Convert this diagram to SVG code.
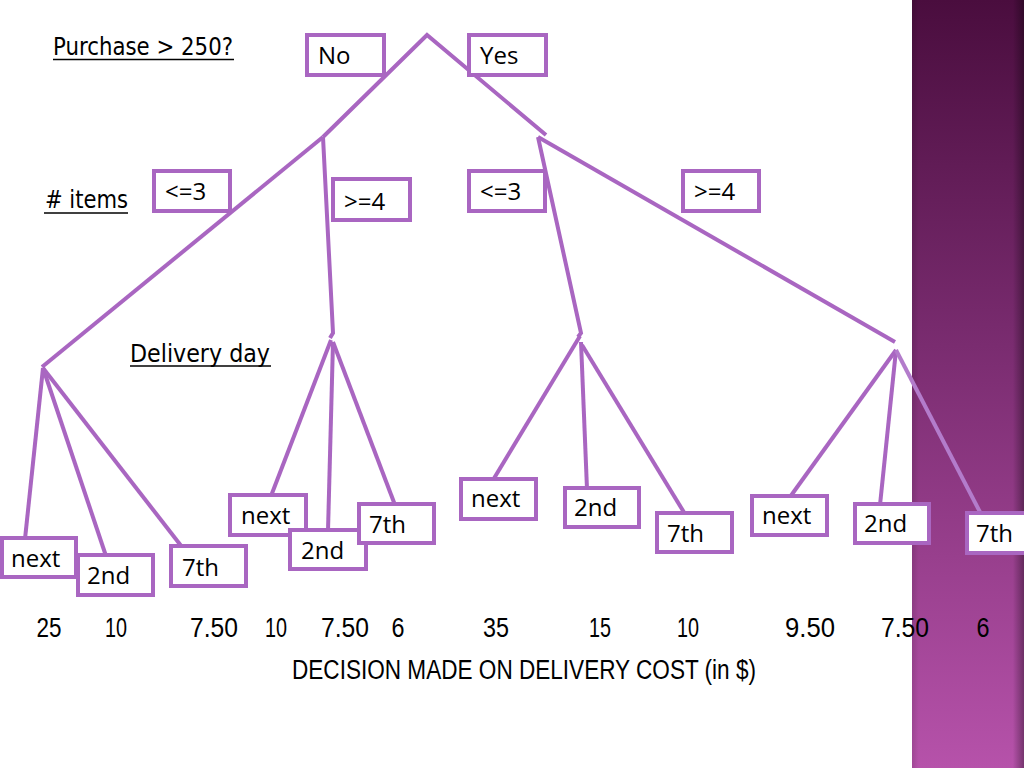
<svg xmlns="http://www.w3.org/2000/svg" width="1024" height="768" viewBox="0 0 1024 768">
<defs>
<linearGradient id="panel" x1="0" y1="0" x2="0" y2="1">
<stop offset="0" stop-color="#4a0d3e"/>
<stop offset="0.45" stop-color="#7a2c70"/>
<stop offset="1" stop-color="#b652aa"/>
</linearGradient>
<linearGradient id="edge" x1="0" y1="0" x2="1" y2="0">
<stop offset="0" stop-color="#000" stop-opacity="0.12"/>
<stop offset="0.06" stop-color="#000" stop-opacity="0"/>
<stop offset="0.9" stop-color="#000" stop-opacity="0"/>
<stop offset="1" stop-color="#000" stop-opacity="0.35"/>
</linearGradient>
<style>
.ln{fill:none;stroke:#a966c1;stroke-width:4;stroke-linejoin:miter;stroke-linecap:butt}
.ln2{fill:none;stroke:#b37ccb;stroke-width:4}
.bx{fill:#fff;stroke:#a966c1;stroke-width:4}
.lb{font-family:"Open Sans","Liberation Sans",sans-serif;font-size:24px;fill:#000}
.hd{font-family:"DejaVu Sans","Liberation Sans",sans-serif;font-size:24px;fill:#000}
.ul{stroke:#000;stroke-width:1.5}
.nm{font-family:"Liberation Sans","DejaVu Sans",sans-serif;font-size:27px;fill:#000;text-anchor:middle}
</style>
</defs>
<rect x="0" y="0" width="1024" height="768" fill="#fff"/>
<rect x="912" y="0" width="112" height="768" fill="url(#panel)"/>
<rect x="912" y="0" width="112" height="768" fill="url(#edge)"/>

<g id="headings">
<text class="hd" x="53" y="55" textLength="180" lengthAdjust="spacingAndGlyphs">Purchase &gt; 250?</text>
<line class="ul" x1="53" y1="59.5" x2="234" y2="59.5"/>
<text class="hd" x="45" y="208" textLength="83" lengthAdjust="spacingAndGlyphs"># items</text>
<line class="ul" x1="44" y1="213" x2="128" y2="213"/>
<text class="hd" x="130" y="362" textLength="140" lengthAdjust="spacingAndGlyphs">Delivery day</text>
<line class="ul" x1="130" y1="366" x2="271" y2="366"/>
</g>

<g id="connectors">
<polyline class="ln" points="323,137 427,35 546,135"/>
<polyline class="ln" points="323,137 42,367"/>
<polyline class="ln" points="323,137 333,333 330,338"/>
<polyline class="ln" points="538,137 895,342"/>
<polyline class="ln" points="538,137 581,333 578,337"/>
<line class="ln" x1="43" y1="368" x2="25" y2="539"/>
<line class="ln" x1="43" y1="368" x2="106" y2="556"/>
<line class="ln" x1="43" y1="368" x2="182" y2="547"/>
<line class="ln" x1="331" y1="340" x2="271" y2="496"/>
<line class="ln" x1="333" y1="342" x2="328" y2="531"/>
<line class="ln" x1="333" y1="342" x2="395" y2="505"/>
<line class="ln" x1="580" y1="336" x2="493" y2="480"/>
<line class="ln" x1="581" y1="342" x2="587" y2="489"/>
<line class="ln" x1="582" y1="345" x2="685" y2="514"/>
<line class="ln" x1="896" y1="350" x2="790" y2="497"/>
<line class="ln" x1="896" y1="350" x2="880" y2="505"/>
<line class="ln2" x1="896" y1="350" x2="981" y2="514"/>
</g>

<g id="node-no"><rect class="bx" x="307" y="35" width="77" height="40"/><text class="lb" x="318" y="64">No</text></g>
<g id="node-yes"><rect class="bx" x="469" y="35" width="77" height="40"/><text class="lb" x="480" y="64">Yes</text></g>
<g id="node-le3-a"><rect class="bx" x="154" y="171" width="76" height="40"/><text class="lb" x="165" y="200">&lt;=3</text></g>
<g id="node-ge4-a"><rect class="bx" x="333" y="179" width="77" height="41"/><text class="lb" x="344" y="210">&gt;=4</text></g>
<g id="node-le3-b"><rect class="bx" x="469" y="171" width="76" height="40"/><text class="lb" x="480" y="200">&lt;=3</text></g>
<g id="node-ge4-b"><rect class="bx" x="683" y="171" width="76" height="40"/><text class="lb" x="694" y="200">&gt;=4</text></g>

<g id="leaf-1-next"><rect class="bx" x="2" y="538" width="74" height="39"/><text class="lb" x="11" y="567">next</text></g>
<g id="leaf-1-2nd"><rect class="bx" x="78" y="555" width="75" height="40"/><text class="lb" x="87" y="584">2nd</text></g>
<g id="leaf-1-7th"><rect class="bx" x="171" y="546" width="75" height="40"/><text class="lb" x="182" y="576">7th</text></g>
<g id="leaf-2-next"><rect class="bx" x="230" y="495" width="76" height="40"/><text class="lb" x="241" y="524">next</text></g>
<g id="leaf-2-2nd"><rect class="bx" x="290" y="530" width="76" height="39"/><text class="lb" x="301" y="559">2nd</text></g>
<g id="leaf-2-7th"><rect class="bx" x="359" y="504" width="75" height="39"/><text class="lb" x="369" y="533">7th</text></g>
<g id="leaf-3-next"><rect class="bx" x="461" y="479" width="75" height="40"/><text class="lb" x="471" y="507">next</text></g>
<g id="leaf-3-2nd"><rect class="bx" x="565" y="488" width="74" height="39"/><text class="lb" x="574" y="516">2nd</text></g>
<g id="leaf-3-7th"><rect class="bx" x="657" y="513" width="75" height="39"/><text class="lb" x="667" y="542">7th</text></g>
<g id="leaf-4-next"><rect class="bx" x="752" y="496" width="75" height="39"/><text class="lb" x="762" y="524">next</text></g>
<g id="leaf-4-2nd"><rect class="bx" x="855" y="504" width="74" height="39"/><text class="lb" x="864" y="532">2nd</text></g>
<g id="leaf-4-7th"><rect class="bx" x="967" y="513" width="70" height="40"/><text class="lb" x="976" y="542">7th</text></g>

<g id="costs">
<text class="nm" x="49" y="637" textLength="25" lengthAdjust="spacingAndGlyphs">25</text>
<text class="nm" x="116" y="637" textLength="22" lengthAdjust="spacingAndGlyphs">10</text>
<text class="nm" x="214" y="637" textLength="48" lengthAdjust="spacingAndGlyphs">7.50</text>
<text class="nm" x="276" y="637" textLength="22" lengthAdjust="spacingAndGlyphs">10</text>
<text class="nm" x="345" y="637" textLength="48" lengthAdjust="spacingAndGlyphs">7.50</text>
<text class="nm" x="398" y="637" textLength="13" lengthAdjust="spacingAndGlyphs">6</text>
<text class="nm" x="496" y="637" textLength="26" lengthAdjust="spacingAndGlyphs">35</text>
<text class="nm" x="600" y="637" textLength="22" lengthAdjust="spacingAndGlyphs">15</text>
<text class="nm" x="688" y="637" textLength="22" lengthAdjust="spacingAndGlyphs">10</text>
<text class="nm" x="810" y="637" textLength="50" lengthAdjust="spacingAndGlyphs">9.50</text>
<text class="nm" x="905" y="637" textLength="48" lengthAdjust="spacingAndGlyphs">7.50</text>
<text class="nm" x="983" y="637" textLength="13" lengthAdjust="spacingAndGlyphs">6</text>
<text class="nm" x="524" y="679" textLength="464" lengthAdjust="spacingAndGlyphs">DECISION MADE ON DELIVERY COST (in $)</text>
</g>
</svg>
